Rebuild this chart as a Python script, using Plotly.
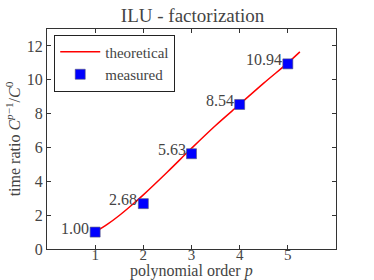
import plotly.graph_objects as go

# measured data
orders = [1, 2, 3, 4, 5]
measured = [1.00, 2.68, 5.63, 8.54, 10.94]
labels = ["1.00", "2.68", "5.63", "8.54", "10.94"]

# theoretical curve
theo_x = [1.0, 1.25, 1.5, 1.75, 2.0, 2.5, 3.0, 3.5, 4.0, 4.5, 5.0, 5.25]
theo_y = [1.0, 1.45, 1.98, 2.57, 3.2, 4.55, 5.95, 7.3, 8.55, 9.8, 11.0, 11.65]

x_ticks = [1, 2, 3, 4, 5]
y_ticks = [0, 2, 4, 6, 8, 10, 12]

FONT = "Liberation Serif"
TXT = "#444444"

fig = go.Figure()
fig.add_trace(go.Scatter(
    x=theo_x, y=theo_y, mode="lines", name="theoretical",
    line=dict(color="red", width=1.5, shape="spline"),
))
fig.add_trace(go.Scatter(
    x=orders, y=measured, mode="markers", name="measured",
    marker=dict(symbol="square", size=10, color="#0000ff",
                line=dict(color="#555577", width=0.6)),
))
for xv, yv, t in zip(orders, measured, labels):
    fig.add_annotation(x=xv, y=yv, text=t, showarrow=False,
                       xanchor="right", yanchor="middle", xshift=-4, yshift=4,
                       font=dict(family=FONT, size=16, color=TXT))

# x axis title placed as paper annotation to avoid overlap with tick labels
fig.add_annotation(x=0.5, y=-0.1, xref="paper", yref="paper",
                   text="polynomial order <i>p</i>", showarrow=False,
                   xanchor="center", yanchor="middle",
                   font=dict(family=FONT, size=16, color=TXT))

axis_common = dict(
    showgrid=False, zeroline=False, ticks="inside", ticklen=4,
    tickcolor="#333333", mirror="ticks", showline=True,
    linecolor="#333333", linewidth=1, automargin=False,
)

fig.update_layout(
    width=374, height=280,
    margin=dict(l=47, r=38, t=29, b=31),
    paper_bgcolor="white", plot_bgcolor="white",
    title=dict(text="ILU - factorization", x=0.515, xanchor="center",
               y=0.945, yanchor="middle", automargin=False,
               font=dict(family=FONT, size=19, color=TXT)),
    xaxis=dict(range=[0, 6], tickvals=x_ticks, ticklabelstandoff=-8,
               tickfont=dict(family=FONT, size=15, color=TXT),
               **axis_common),
    yaxis=dict(range=[0, 13], tickvals=y_ticks,
               tickfont=dict(family=FONT, size=16, color=TXT),
               title=dict(text="time ratio <i>C</i><sup><i>p</i>−1</sup>/<i>C</i><sup>0</sup>",
                          standoff=2,
                          font=dict(family=FONT, size=16, color=TXT)),
               **axis_common),
    legend=dict(x=0.025, y=0.975, xanchor="left", yanchor="top",
                bgcolor="white", bordercolor="#222222", borderwidth=1,
                font=dict(family=FONT, size=15, color=TXT),
                itemwidth=40, tracegroupgap=0),
    showlegend=True,
)

fig.write_html("out.html", config={"displayModeBar": False},
               post_script="document.body.style.margin='0';document.body.style.overflow='hidden';")
